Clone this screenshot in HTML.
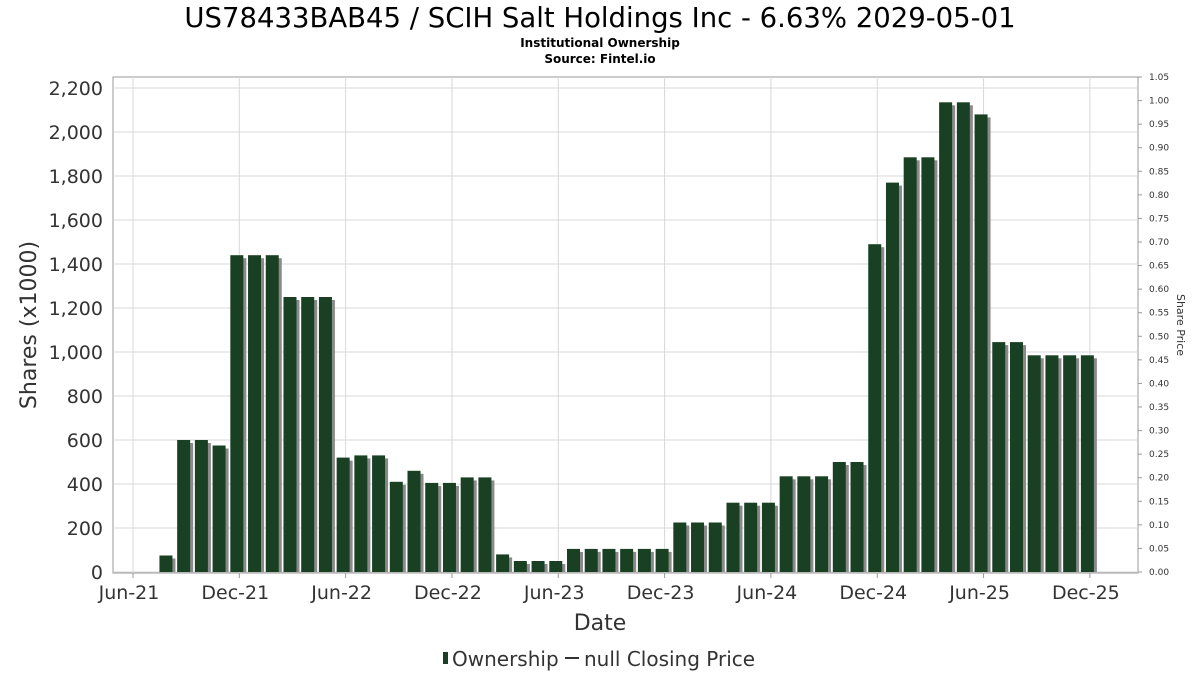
<!DOCTYPE html>
<html><head><meta charset="utf-8"><style>
body{margin:0;background:#fff;font-family:"DejaVu Sans","Liberation Sans",sans-serif;}
svg{display:block}
</style></head><body>
<svg id="c" width="1200" height="675" xmlns="http://www.w3.org/2000/svg">
<text x="600" y="27" text-anchor="middle" font-size="27.5" fill="#000">US78433BAB45 / SCIH Salt Holdings Inc - 6.63% 2029-05-01</text>
<text x="600" y="47" text-anchor="middle" font-size="12" font-weight="bold">Institutional Ownership</text>
<text x="600" y="63" text-anchor="middle" font-size="12" font-weight="bold">Source: Fintel.io</text>
<rect x="113" y="77" width="1025" height="496" fill="#fff" stroke="#999"/>
<g id="grid"></g><g id="bars"></g><g id="axes"></g>
<text x="600" y="630" text-anchor="middle" font-size="22" fill="#333">Date</text>
<text transform="translate(36,325) rotate(-90)" text-anchor="middle" font-size="22" fill="#333">Shares (x1000)</text>
<text transform="translate(1177,325) rotate(90)" text-anchor="middle" font-size="11" fill="#333">Share Price</text>
<g>
<rect x="443" y="652" width="5" height="12" fill="#1a4024"/>
<text x="452" y="666" font-size="20" fill="#333">Ownership</text>
<line x1="565" y1="658" x2="579" y2="658" stroke="#333" stroke-width="2"/>
<text x="584" y="666" font-size="20" fill="#333">null Closing Price</text>
</g>
</svg>
<script>
const tickLabels=["Jun-21","Dec-21","Jun-22","Dec-22","Jun-23","Dec-23","Jun-24","Dec-24","Jun-25","Dec-25"];
const yTicks=[0,200,400,600,800,1000,1200,1400,1600,1800,2000,2200];
const priceTicks=[0,0.05,0.1,0.15,0.2,0.25,0.3,0.35,0.4,0.45,0.5,0.55,0.6,0.65,0.7,0.75,0.8,0.85,0.9,0.95,1,1.05];
const barMonths=[2,3,4,5,6,7,8,9,10,11,12,13,14,15,16,17,18,19,20,21,22,23,24,25,26,27,28,29,30,31,32,33,34,35,36,37,38,39,40,41,42,43,44,45,46,47,48,49,50,51,52,53,54];
const shares=[75,600,600,575,1440,1440,1440,1250,1250,1250,520,530,530,410,460,405,405,430,430,80,50,50,50,105,105,105,105,105,105,225,225,225,315,315,315,435,435,435,500,500,1490,1770,1885,1885,2135,2135,2080,1045,1045,985,985,985,985];
const NS="http://www.w3.org/2000/svg";
const x=m=>133+m*17.72;
const y=v=>572-v*0.22;
const yr=p=>572-p*(495/1.05);
function mk(t,a,p){const e=document.createElementNS(NS,t);for(const k in a)e.setAttribute(k,a[k]);document.getElementById(p).appendChild(e);return e;}
yTicks.forEach(v=>{
 const l=mk('line',{x1:113,x2:1138,y1:y(v),y2:y(v),stroke:'#d8d8d8'},'grid');
 
 
 const t=mk('text',{x:103,y:y(v)+7,'text-anchor':'end','font-size':19,fill:'#333'},'axes');
 t.textContent=v.toLocaleString('en-US');
 
 
});
tickLabels.forEach((s,i)=>{
 const xx=x(i*6);
 const l=mk('line',{x1:xx,x2:xx,y1:77,y2:573,stroke:'#d8d8d8'},'grid');
 
 
 const k=mk('line',{x1:xx,x2:xx,y1:573,y2:578,stroke:'#999'},'axes');
 
 
 const t=mk('text',{x:xx-4,y:599,'text-anchor':'middle','font-size':19,fill:'#333'},'axes');
 t.textContent=s;
 
 
});
priceTicks.forEach(p=>{
 const t=mk('text',{x:1149,y:yr(p)+3,'font-size':9,fill:'#333'},'axes');
 t.textContent=p.toFixed(2);
 
 
 const k=mk('line',{x1:1138,x2:1142,y1:yr(p),y2:yr(p),stroke:'#999'},'axes');
 
 
});
shares.forEach((v,i)=>{
 const cx=x(barMonths[i])-3;
 const s=mk('rect',{x:cx-6+3,y:y(v)+3,width:13,height:572-y(v)-3,fill:'#8a8a8a'},'bars');
 
 
 const b=mk('rect',{x:cx-6,y:y(v),width:13,height:572-y(v),fill:'#1a4024'},'bars');
 
 
});
</script>
</body></html>
